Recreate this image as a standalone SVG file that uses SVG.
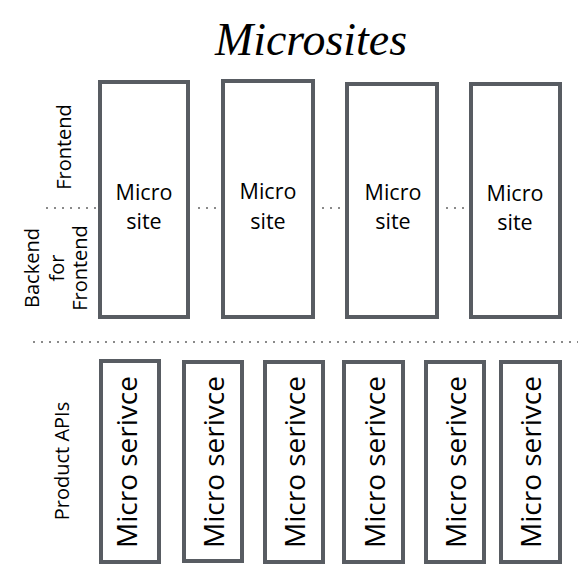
<svg xmlns="http://www.w3.org/2000/svg" width="582" height="578" viewBox="0 0 582 578">
<style>
.box{fill:#fff;stroke:#585c62;stroke-width:4}
.t{font-family:"Open Sans","Liberation Sans",Arial,sans-serif;fill:#000}
.site{font-size:21.5px;text-anchor:middle}
.lab{font-size:20px;text-anchor:middle}
.svc{font-size:28px;text-anchor:middle}
.dot{stroke:#8a8a8a;stroke-width:2;stroke-dasharray:2 6;fill:none}
</style>
<rect width="582" height="578" fill="#fff"/>
<text x="311" y="55" text-anchor="middle" font-family="'Liberation Serif',serif" font-style="italic" font-size="46" textLength="192" lengthAdjust="spacingAndGlyphs">Microsites</text>
<g id="labels">
<text class="t lab" transform="translate(71,147) rotate(-90)">Frontend</text>
<text class="t lab" transform="translate(39,268) rotate(-90)">Backend</text>
<text class="t lab" transform="translate(64,268) rotate(-90)">for</text>
<text class="t lab" transform="translate(87,268) rotate(-90)">Frontend</text>
<text class="t lab" transform="translate(69,461) rotate(-90)">Product APIs</text>
</g>
<g id="connectors">
<line class="dot" x1="46" y1="208" x2="96" y2="208"/>
<line class="dot" x1="198" y1="208" x2="219" y2="208"/>
<line class="dot" x1="322" y1="208" x2="343" y2="208"/>
<line class="dot" x1="446" y1="208" x2="467" y2="208"/>
<line class="dot" x1="33" y1="342" x2="578" y2="342"/>
</g>
<g id="site1"><rect class="box" x="100" y="82" width="88" height="235"/><text class="t site" x="144" y="200">Micro</text><text class="t site" x="144" y="229">site</text></g>
<g id="site2"><rect class="box" x="223" y="81" width="90" height="236"/><text class="t site" x="268" y="199">Micro</text><text class="t site" x="268" y="229">site</text></g>
<g id="site3"><rect class="box" x="347" y="84" width="90" height="233"/><text class="t site" x="393" y="200">Micro</text><text class="t site" x="393" y="229">site</text></g>
<g id="site4"><rect class="box" x="471" y="84" width="89" height="233"/><text class="t site" x="515" y="201">Micro</text><text class="t site" x="515" y="230">site</text></g>
<g id="svc1"><rect class="box" x="101" y="361" width="58" height="201"/><text class="t svc" transform="translate(137,462) rotate(-90)">Micro serivce</text></g>
<g id="svc2"><rect class="box" x="184" y="362" width="58" height="199"/><text class="t svc" transform="translate(224,462) rotate(-90)">Micro serivce</text></g>
<g id="svc3"><rect class="box" x="265" y="362" width="58" height="200"/><text class="t svc" transform="translate(305,462) rotate(-90)">Micro serivce</text></g>
<g id="svc4"><rect class="box" x="344" y="362" width="59" height="200"/><text class="t svc" transform="translate(385,462) rotate(-90)">Micro serivce</text></g>
<g id="svc5"><rect class="box" x="426" y="362" width="58" height="200"/><text class="t svc" transform="translate(466,462) rotate(-90)">Micro serivce</text></g>
<g id="svc6"><rect class="box" x="501" y="362" width="59" height="200"/><text class="t svc" transform="translate(541,462) rotate(-90)">Micro serivce</text></g>
</svg>
